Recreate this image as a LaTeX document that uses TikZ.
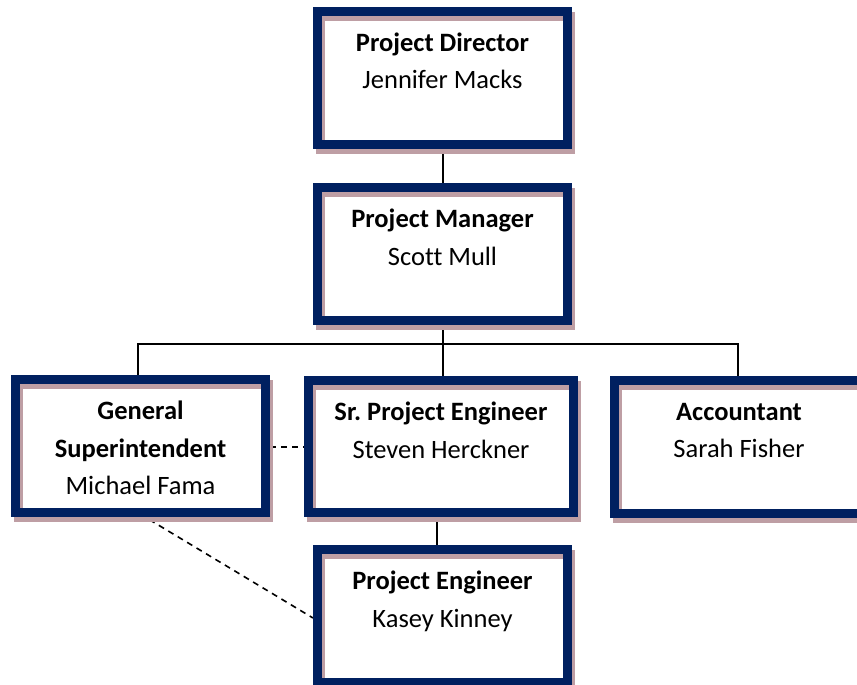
\documentclass[tikz,border=0pt]{standalone}
\usepackage{fontspec}
\setmainfont[Ligatures=CommonOff]{Carlito}
\usetikzlibrary{calc}
\definecolor{frame}{RGB}{0,32,96}
\definecolor{shade}{RGB}{190,158,164}
\tikzset{
  role/.style={draw=frame, line width=9pt, inner sep=0pt,
    minimum width=250pt, minimum height=133pt,
    preaction={draw=shade, line width=9pt, transform canvas={shift={(3pt,-5pt)}}}},
  caption/.style={anchor=base, inner sep=0pt,
    font=\fontsize{26.5}{37.5}\selectfont},
  link/.style={draw=black, line width=2pt},
  dotted link/.style={draw=black, line width=1.6pt, dash pattern=on 6pt off 5pt}
}
\newcommand\roletext[2]{\begin{tabular}[t]{@{}c@{}}#1\\#2\end{tabular}}
\renewcommand\arraystretch{1}
\begin{document}
\begin{tikzpicture}[x=1pt,y=-1pt]
\useasboundingbox (0,0) rectangle (857,685);
\clip (0,0) rectangle (857,685);
\fill[white] (0,0) rectangle (857,685);

% box positions (centres)
\coordinate (pdc) at (442.5,78);
\coordinate (pmc) at (442.5,254);
\coordinate (gsc) at (140.5,446);
\coordinate (spc) at (441,446.5);
\coordinate (acc) at (739,446.5);
\coordinate (pec) at (442.5,616);

% connectors
\coordinate (bus) at (443,344);
\draw[link] (442.5,149) -- (442.5,183);
\draw[link] (443,325) -- (bus);
\draw[link] (138,376) -- (138,344) -- (738,344) -- (738,376);
\draw[link] (bus) -- (443,376);
\draw[link] (437,517) -- (437,545);
\draw[dotted link] (270,447) -- (304,447);
\draw[dotted link] (140,514) -- (313,618);

% boxes
\node[role] (pd) at (pdc) {};
\node[role] (pm) at (pmc) {};
\node[role] (gs) at (gsc) {};
\node[role, minimum width=265pt, minimum height=132pt] (sp) at (spc) {};
\node[role] (ac) at (acc) {};
\node[role] (pe) at (pec) {};

% titles and names
\node[caption] (pdt) at ($(pd.north)+(0,44.5)$) {\roletext{\textbf{Project Director}}{Jennifer Macks}};
\node[caption] (pmt) at ($(pm.north)+(0,44.5)$) {\roletext{\textbf{Project Manager}}{Scott Mull}};
\node[caption] (gst) at ($(gs.north)+(0,44.5)$) {\begin{tabular}[t]{@{}c@{}}\textbf{General}\\\textbf{Superintendent}\\Michael Fama\end{tabular}};
\node[caption] (spt) at ($(sp.north)+(0,44.5)$) {\roletext{\textbf{Sr.\ Project Engineer}}{Steven Herckner}};
\node[caption] (act) at ($(ac.north)+(0,44.5)$) {\roletext{\textbf{Accountant}}{Sarah Fisher}};
\node[caption] (pet) at ($(pe.north)+(0,44.5)$) {\roletext{\textbf{Project Engineer}}{Kasey Kinney}};
\end{tikzpicture}
\end{document}
